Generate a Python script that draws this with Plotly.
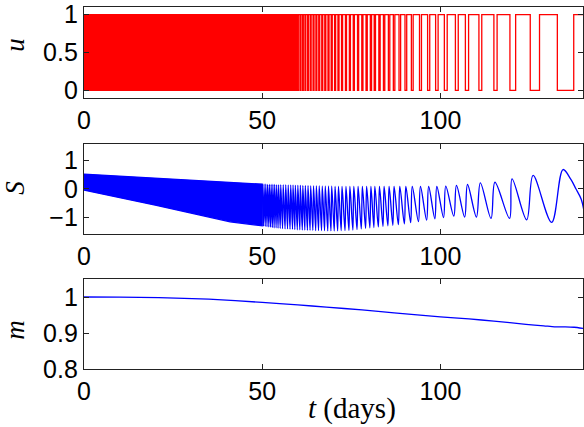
import plotly.graph_objects as go

T_MAX = 140

# ---------------- u (control) ----------------
# switching too fast to resolve before this time: appears as a solid band
u_dense_start = 0.0
u_dense_end = 59.8
# times where u drops to 0 and comes back to 1
u_off = [59.88, 60.58, 61.28, 61.98, 62.73, 63.48, 64.26, 65.06, 65.86, 66.71,
         67.55, 68.45, 69.35, 70.30, 71.25, 72.25, 73.35, 74.45, 75.54, 76.74,
         77.94, 79.13, 80.33, 81.42, 82.72, 84.01, 85.40, 86.79, 88.38, 90.06,
         91.85, 94.13, 96.40, 98.65, 101.1, 104.2, 107.0, 110.8, 115.0, 119.5,
         125.2, 132.8]
u_on = [60.13, 60.83, 61.53, 62.23, 62.98, 63.73, 64.54, 65.34, 66.14, 66.99,
        67.85, 68.75, 69.65, 70.60, 71.55, 72.55, 73.65, 74.75, 75.86, 77.06,
        78.26, 79.47, 80.68, 81.78, 83.09, 84.39, 85.80, 87.21, 88.83, 90.54,
        92.35, 94.68, 97.00, 99.35, 101.9, 105.0, 107.9, 111.6, 115.9, 121.1,
        127.8, 137.4]

# ---------------- S ----------------
# envelope of the unresolved fast oscillation
S_band_t = [0, 20, 41, 50]
S_band_hi = [0.52, 0.37, 0.21, 0.16]
S_band_lo = [-0.05, -0.58, -1.17, -1.31]
# resolved oscillation: minima and maxima
S_min_t = [50.35, 50.85, 51.35, 51.85, 52.35, 52.85, 53.35, 53.9, 54.45, 55.05,
           55.7, 56.4, 57.1, 57.8, 58.5, 59.15, 59.85, 60.55, 61.25, 61.95,
           62.68, 63.42, 64.2, 65.0, 65.8, 66.64, 67.49, 68.38, 69.28, 70.21,
           71.16, 72.15, 73.23, 74.33, 75.43, 76.6, 77.8, 79.0, 80.2, 81.33,
           82.58, 83.88, 85.25, 86.65, 88.2, 89.88, 91.65, 93.83, 96.13, 98.43,
           100.88, 103.75, 106.8, 110.1, 114.2, 119.4, 124.2, 131.2]
S_min_v = [-1.32, -1.33, -1.34, -1.35, -1.36, -1.37, -1.38, -1.38, -1.39, -1.40,
           -1.41, -1.42, -1.42, -1.43, -1.43, -1.44, -1.45, -1.45, -1.46, -1.46,
           -1.47, -1.47, -1.47, -1.48, -1.48, -1.48, -1.48, -1.49, -1.49, -1.49,
           -1.49, -1.48, -1.48, -1.47, -1.46, -1.44, -1.42, -1.40, -1.38, -1.37,
           -1.35, -1.33, -1.31, -1.29, -1.27, -1.24, -1.20, -1.16, -1.11, -1.06,
           -1.02, -0.97, -1.00, -1.00, -1.05, -1.05, -1.10, -1.19]
S_max_t = [50.5, 51.0, 51.5, 52.0, 52.5, 53.0, 53.5, 54.05, 54.6, 55.2,
           55.9, 56.6, 57.3, 58.0, 58.65, 59.3, 60.0, 60.7, 61.4, 62.1,
           62.85, 63.6, 64.4, 65.2, 66.0, 66.85, 67.7, 68.6, 69.5, 70.45,
           71.4, 72.4, 73.5, 74.6, 75.7, 76.9, 78.1, 79.3, 80.5, 81.6,
           82.9, 84.2, 85.6, 87.0, 88.6, 90.3, 92.1, 94.4, 96.7, 99.0,
           101.5, 104.5, 107.6, 111.2, 115.3, 120.1, 126.0, 134.4]
S_max_v = [0.16, 0.16, 0.15, 0.15, 0.15, 0.15, 0.15, 0.14, 0.14, 0.14,
           0.14, 0.14, 0.13, 0.13, 0.13, 0.12, 0.12, 0.12, 0.11, 0.11,
           0.11, 0.10, 0.10, 0.10, 0.10, 0.09, 0.09, 0.09, 0.09, 0.08,
           0.08, 0.08, 0.08, 0.08, 0.08, 0.08, 0.08, 0.08, 0.08, 0.08,
           0.08, 0.08, 0.08, 0.08, 0.08, 0.08, 0.08, 0.08, 0.08, 0.08,
           0.09, 0.12, 0.15, 0.21, 0.23, 0.35, 0.47, 0.68]
S_tail_t = [136.6, 138.0, 139.5, 140.5]
S_tail_v = [0.33, 0.0, -0.37, -0.96]

# ---------------- m ----------------
m_t = [0, 10, 21, 35, 50, 60, 68, 78, 87, 100, 108, 115, 124, 129, 132, 135, 137.5, 140]
m_v = [1.0, 0.9995, 0.998, 0.994, 0.985, 0.978, 0.972, 0.964, 0.956, 0.945,
       0.939, 0.933, 0.924, 0.920, 0.917, 0.917, 0.916, 0.913]

x_ticks = [0, 50, 100]
u_ticks = [0, 0.5, 1]
S_ticks = [-1, 0, 1]
m_ticks = [0.8, 0.9, 1]

RED = "rgb(255,0,0)"
BLUE = "rgb(0,0,255)"
LW = 1.3

fig = go.Figure()

# u dense band
fig.add_trace(go.Scatter(
    x=[u_dense_start, u_dense_end, u_dense_end, u_dense_start, u_dense_start],
    y=[0, 0, 1, 1, 0], fill="toself", fillcolor=RED, mode="lines",
    line=dict(color=RED, width=LW), xaxis="x", yaxis="y", hoverinfo="skip"))
# u resolved switching
ux, uy = [u_dense_end], [1]
for a, b in zip(u_off, u_on):
    ux += [a, a, b, b]
    uy += [1, 0, 0, 1]
ux.append(T_MAX)
uy.append(1)
fig.add_trace(go.Scatter(x=ux, y=uy, mode="lines", line=dict(color=RED, width=LW),
                         xaxis="x", yaxis="y"))

# S dense band
fig.add_trace(go.Scatter(
    x=S_band_t + S_band_t[::-1], y=S_band_hi + S_band_lo[::-1],
    fill="toself", fillcolor=BLUE, mode="lines",
    line=dict(color=BLUE, width=LW), xaxis="x2", yaxis="y2", hoverinfo="skip"))
sx, sy = [S_band_t[-1]], [S_band_hi[-1]]
for tm, vm, tp, vp in zip(S_min_t, S_min_v, S_max_t, S_max_v):
    sx += [tm, tp]
    sy += [vm, vp]
sx += S_tail_t
sy += S_tail_v
fig.add_trace(go.Scatter(x=sx, y=sy, mode="lines",
                         line=dict(color=BLUE, width=LW, shape="spline", smoothing=1.0),
                         xaxis="x2", yaxis="y2"))

# m
fig.add_trace(go.Scatter(x=m_t, y=m_v, mode="lines",
                         line=dict(color=BLUE, width=LW, shape="spline", smoothing=0.6),
                         xaxis="x3", yaxis="y3"))

tickfont = dict(family="Liberation Sans, Arial, sans-serif", size=25, color="black")
axis_common = dict(showline=True, linecolor="#222222", linewidth=1.3, mirror="ticks",
                   ticks="inside", ticklen=5, tickwidth=1, tickcolor="#222222",
                   showgrid=False, zeroline=False, tickfont=tickfont)

def xa(anchor):
    return dict(axis_common, range=[0, T_MAX], tickvals=x_ticks, ticktext=[str(v) for v in x_ticks],
                anchor=anchor, domain=[0, 1])

H = 362.0
fig.update_layout(
    width=584, height=427,
    margin=dict(l=84, r=1, t=7, b=58),
    paper_bgcolor="white", plot_bgcolor="white", showlegend=False,
    xaxis=xa("y"), xaxis2=xa("y2"), xaxis3=xa("y3"),
    yaxis=dict(axis_common, range=[-0.1, 1.1], tickvals=u_ticks, ticktext=["0", "0.5", "1"],
               anchor="x", domain=[1 - 91 / H, 1]),
    yaxis2=dict(axis_common, range=[-1.6, 1.6], tickvals=S_ticks, ticktext=["\u22121", "0", "1"],
                anchor="x2", domain=[1 - 227 / H, 1 - 136.5 / H]),
    yaxis3=dict(axis_common, range=[0.8, 1.05], tickvals=m_ticks, ticktext=["0.8", "0.9", "1"],
                anchor="x3", domain=[0, 90 / H]),
)

serif = "Liberation Serif, Times New Roman, serif"
def ylab(text, ypix):
    fig.add_annotation(text=text, xref="paper", yref="paper",
                       x=(15 - 84) / 498.0, y=(369 - ypix) / H,
                       showarrow=False, textangle=-90,
                       font=dict(family=serif, size=27, color="black"),
                       xanchor="center", yanchor="middle")

ylab("<i>u</i>", 45)
ylab("<i>S</i>", 188)
ylab("<i>m</i>", 330)
fig.add_annotation(text="<i>t</i> (days)", xref="paper", yref="paper",
                   x=(351 - 84) / 498.0, y=(369 - 408) / H, showarrow=False,
                   font=dict(family=serif, size=29, color="black"),
                   xanchor="center", yanchor="middle")

fig.write_html("out.html")
